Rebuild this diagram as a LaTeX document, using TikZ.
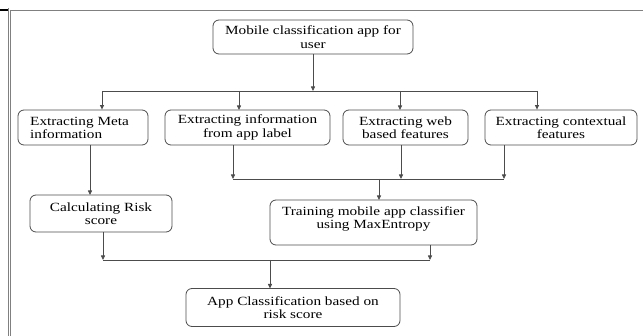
\documentclass[tikz,border=0pt]{standalone}
\usepackage{fontspec}
\setmainfont{Liberation Serif}[FakeStretch=1.22]
\usetikzlibrary{arrows.meta}
\definecolor{edge}{gray}{0.3}
\tikzset{
  box/.style={draw=edge, line width=0.8pt, rounded corners=6pt, inner sep=0pt,
    font=\fontsize{12.5}{13.5}\selectfont, align=center, text=black},
  conn/.style={draw=edge, line width=0.8pt},
  arr/.style={conn, -{Triangle[length=4.5pt,width=4pt]}},
  frame/.style={draw=gray, line width=0.9pt}
}
\begin{document}
\begin{tikzpicture}[x=1pt,y=-1pt]
\useasboundingbox (0,0) rectangle (643,336);
% frame
\draw[black, line width=2pt] (0,10) -- (8,10);
\draw[frame] (8.5,8) -- (8.5,336);
\draw[frame] (10.8,10) -- (10.8,336);
\draw[frame] (10.8,10) -- (643,10);
% boxes
\node[box, minimum width=200, minimum height=34] (top) at (313,37) {Mobile classification app for\\user};
\node[box, minimum width=130, minimum height=35] (meta) at (83,127.5) {};
\node[font=\fontsize{12.5}{13.5}\selectfont, align=left, anchor=west, inner sep=0pt] (metat) at (30,128) {Extracting Meta\\information};
\node[box, minimum width=165, minimum height=35] (info) at (247.5,127.5) {Extracting information\\from app label};
\node[box, minimum width=125, minimum height=35] (web) at (405.5,127.5) {Extracting web\\based features};
\node[box, minimum width=152, minimum height=35] (ctx) at (561,127.5) {Extracting contextual\\features};
\node[box, minimum width=142, minimum height=37] (risk) at (101,213.5) {Calculating Risk\\score};
\node[box, minimum width=207, minimum height=45] (train) at (373.5,222.5) {};
\node[font=\fontsize{12.5}{13.5}\selectfont, align=center, inner sep=0pt] (traint) at (373.5,219) {Training mobile app classifier\\using MaxEntropy};
\node[box, minimum width=214, minimum height=38] (final) at (293,307.5) {App Classification based on\\risk score};
% buses
\coordinate (b1l) at (102,91);
\coordinate (b1r) at (537,91);
\coordinate (b2l) at (233,179);
\coordinate (b2r) at (504,179);
\coordinate (b3l) at (103,260);
\coordinate (b3r) at (430,260);
% top fan-out
\draw[arr] (top.south) -- (top.south |- b1l);
\draw[conn] (b1l) -- (b1r);
\draw[arr] (b1l) -- (b1l |- meta.north);
\draw[arr] (239,91) -- (239,110);
\draw[arr] (400,91) -- (400,110);
\draw[arr] (b1r) -- (b1r |- ctx.north);
% meta to risk
\draw[arr] (90,145) -- (90,195);
% features to training
\draw[arr] (b2l |- info.south) -- (b2l);
\draw[arr] (401,145) -- (401,179);
\draw[arr] (b2r |- ctx.south) -- (b2r);
\draw[conn] (b2l) -- (b2r);
\draw[arr] (379,179) -- (379,200);
% risk & training to final
\draw[arr] (b3l |- risk.south) -- (b3l);
\draw[arr] (b3r |- train.south) -- (b3r);
\draw[conn] (b3l) -- (b3r);
\draw[arr] (270,260) -- (270,288.5);
\end{tikzpicture}
\end{document}
